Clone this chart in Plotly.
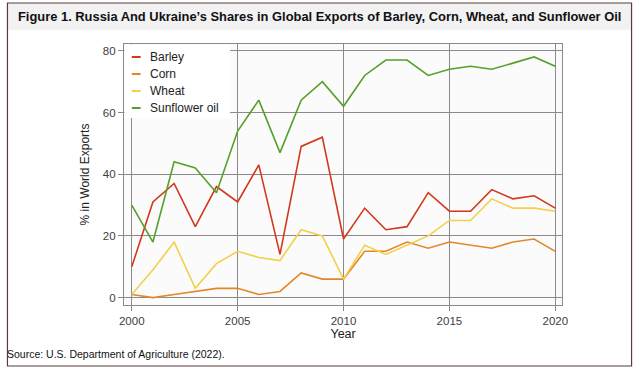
import plotly.graph_objects as go

years = list(range(2000, 2021))
barley = [10, 31, 37, 23, 36, 31, 43, 14, 49, 52, 19, 29, 22, 23, 34, 28, 28, 35, 32, 33, 29]
corn = [1, 0, 1, 2, 3, 3, 1, 2, 8, 6, 6, 15, 15, 18, 16, 18, 17, 16, 18, 19, 15]
wheat = [1, 9, 18, 3, 11, 15, 13, 12, 22, 20, 6, 17, 14, 17, 20, 25, 25, 32, 29, 29, 28]
sunflower = [30, 18, 44, 42, 34, 54, 64, 47, 64, 70, 62, 72, 77, 77, 72, 74, 75, 74, 76, 78, 75]

series_names = ["Barley", "Corn", "Wheat", "Sunflower oil"]
series_values = [barley, corn, wheat, sunflower]
colors = ["#d2391c", "#e3882a", "#f3cf4a", "#55a02a"]
x_ticks = [2000, 2005, 2010, 2015, 2020]
y_ticks = [0, 20, 40, 60, 80]

W, H = 641, 370
fnt = "Liberation Sans, Arial, sans-serif"


def px(x):
    return x / W


def py(y):
    return (H - y) / H


fig = go.Figure()
for name, vals, c in zip(series_names, series_values, colors):
    fig.add_trace(go.Scatter(x=years, y=vals, mode="lines", name=name,
                             line=dict(color=c, width=1.6), showlegend=False))

shapes = [
    dict(type="rect", xref="paper", yref="paper",
         x0=px(3), x1=px(637), y0=py(30), y1=py(3),
         fillcolor="#f2f2f2", line=dict(width=0), layer="below"),
    dict(type="rect", xref="paper", yref="paper",
         x0=px(2.5), x1=px(637.5), y0=py(366), y1=py(3),
         line=dict(color="#5b3b3b", width=1.2), fillcolor="rgba(0,0,0,0)"),
    # legend background
    dict(type="rect", xref="paper", yref="paper",
         x0=px(121.5), x1=px(229), y0=py(118), y1=py(44.5),
         fillcolor="white", line=dict(width=0), layer="above"),
]
annotations = [
    dict(text="<b>Figure 1. Russia And Ukraine’s Shares in Global Exports of Barley, Corn, Wheat, and Sunflower Oil</b>",
         xref="paper", yref="paper", x=px(320), y=py(17), xanchor="center", yanchor="middle",
         showarrow=False, font=dict(family=fnt, size=12.9, color="#111")),
    dict(text="Source: U.S. Department of Agriculture (2022).",
         xref="paper", yref="paper", x=px(0), y=py(354), xanchor="left", yanchor="middle",
         showarrow=False, font=dict(family=fnt, size=10.5, color="#111")),
]
# manual legend (entries from the series lists)
for i, (name, c) in enumerate(zip(series_names, colors)):
    yc = 57 + 17 * i
    shapes.append(dict(type="line", xref="paper", yref="paper",
                       x0=px(129), x1=px(138), y0=py(yc), y1=py(yc),
                       line=dict(color=c, width=2), layer="above"))
    annotations.append(dict(text=name, xref="paper", yref="paper", x=px(145), y=py(yc),
                            xanchor="left", yanchor="middle", showarrow=False,
                            font=dict(family=fnt, size=12, color="#222")))

fig.update_layout(
    width=W, height=H,
    margin=dict(l=0, r=0, t=0, b=0),
    paper_bgcolor="white",
    plot_bgcolor="#fbfbfb",
    font=dict(family=fnt, size=11, color="#404040"),
    showlegend=False,
    xaxis=dict(domain=[px(121), px(567)], range=[1999.63, 2020.33],
               tickvals=x_ticks, ticks="outside", ticklen=5, tickcolor="#888",
               showgrid=True, gridcolor="#8a8a8a", gridwidth=1,
               showline=True, linecolor="#8a8a8a", mirror=True, zeroline=False,
               title=dict(text="Year", font=dict(size=12.5, color="#222"), standoff=2),
               tickfont=dict(size=11.5, color="#404040")),
    yaxis=dict(domain=[py(305), py(44)], range=[-2.4, 82.2],
               tickvals=y_ticks, ticks="outside", ticklen=5, tickcolor="#888",
               showgrid=True, gridcolor="#8a8a8a", gridwidth=1,
               showline=True, linecolor="#8a8a8a", mirror=True, zeroline=False,
               title=dict(text="% in World Exports", font=dict(size=12, color="#222"), standoff=10),
               tickfont=dict(size=11.5, color="#404040")),
    shapes=shapes,
    annotations=annotations,
)

fig.write_html("out.html", config={"displayModeBar": False},
               post_script="document.body.style.margin='0';")
